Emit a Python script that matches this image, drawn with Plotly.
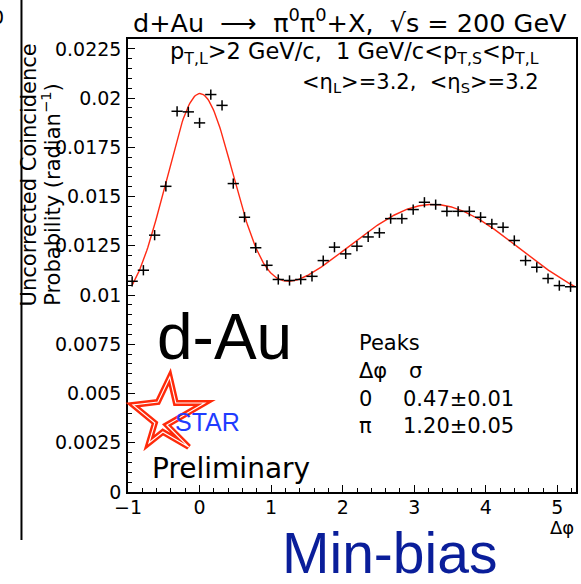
import numpy as np
import plotly.graph_objects as go

# ---- measured two-particle azimuthal correlation, d+Au min-bias ----
dphi = [-0.942, -0.785, -0.628, -0.471, -0.314, -0.157, 0.000, 0.157,
        0.314, 0.471, 0.628, 0.785, 0.942, 1.100, 1.257, 1.414,
        1.571, 1.728, 1.885, 2.042, 2.199, 2.356, 2.513, 2.670,
        2.827, 2.985, 3.142, 3.299, 3.456, 3.613, 3.770, 3.927,
        4.084, 4.241, 4.398, 4.555, 4.712, 4.869, 5.027, 5.184]
coinc_prob = [0.01070, 0.01126, 0.01304, 0.01552, 0.01933, 0.01930, 0.01874, 0.02018,
              0.01963, 0.01566, 0.01395, 0.01240, 0.01151, 0.01079, 0.01074, 0.01079,
              0.01095, 0.01175, 0.01243, 0.01209, 0.01248, 0.01295, 0.01316, 0.01388,
              0.01388, 0.01434, 0.01471, 0.01459, 0.01425, 0.01425, 0.01425, 0.01395,
              0.01361, 0.01344, 0.01277, 0.01175, 0.01141, 0.01084, 0.01048, 0.01042]
bin_half_width = 0.0785      # half of a pi/20 bin
stat_err = 0.00026

# ---- fit: constant pedestal + near-side and away-side Gaussians ----
fit_pedestal = 0.0090
near_amp, near_mean, near_sigma = 0.01109, 0.0, 0.47
away_amp, away_mean, away_sigma = 0.0056, 3.26, 1.20
fit_lo, fit_hi = -0.94, 5.24

# ---- axis ticks ----
x_tickvals = [-1, 0, 1, 2, 3, 4, 5]
x_ticktext = ["\u22121", "0", "1", "2", "3", "4", "5"]
y_tickvals = [0, 0.0025, 0.005, 0.0075, 0.01, 0.0125, 0.015, 0.0175, 0.02, 0.0225]
y_ticktext = ["0", "0.0025", "0.005", "0.0075", "0.01", "0.0125", "0.015",
              "0.0175", "0.02", "0.0225"]

ROOT_FONT = "DejaVu Sans"
SLIDE_FONT = "Liberation Sans, Arial"

W, H = 581, 584
PL, PR, PT, PB = 128, 578, 39, 492


def fx(p):
    return (p - PL) / (PR - PL)


def fy(p):
    return (PB - p) / (PB - PT)


def gauss(x, a, m, s):
    return a * np.exp(-0.5 * ((x - m) / s) ** 2)


xf = np.linspace(fit_lo, fit_hi, 400)
yf = (fit_pedestal + gauss(xf, near_amp, near_mean, near_sigma)
      + gauss(xf, away_amp, away_mean, away_sigma))

fig = go.Figure()
fig.add_trace(go.Scatter(
    x=xf, y=yf, mode="lines",
    line=dict(color="#ff2a14", width=1.4),
    hoverinfo="skip", showlegend=False))
fig.add_trace(go.Scatter(
    x=dphi, y=coinc_prob, mode="markers",
    marker=dict(size=1, color="black"),
    error_x=dict(type="constant", value=bin_half_width, width=0,
                 color="black", thickness=1.5),
    error_y=dict(type="constant", value=stat_err, width=0,
                 color="black", thickness=1.5),
    showlegend=False))


def ann(text, x, y, size, xanchor="left", yanchor="middle",
        family=ROOT_FONT, color="black", angle=0):
    return dict(text=text, x=fx(x), y=fy(y), xref="paper", yref="paper",
                xanchor=xanchor, yanchor=yanchor, showarrow=False,
                textangle=angle,
                font=dict(family=family, size=size, color=color))


annotations = [
    ann("d+Au&nbsp;&nbsp;\u27f6&nbsp;&nbsp;\u03c0<sup>0</sup>\u03c0<sup>0</sup>+X,&nbsp;&nbsp;\u221as&nbsp;=&nbsp;200&nbsp;GeV",
        131, 21, 25.5),
    ann("p<sub>T,L</sub>&gt;2 GeV/c,&nbsp;&nbsp;1 GeV/c&lt;p<sub>T,S</sub>&lt;p<sub>T,L</sub>",
        543, 53, 22.5, xanchor="right"),
    ann("&lt;\u03b7<sub>L</sub>&gt;=3.2,&nbsp;&nbsp;&lt;\u03b7<sub>S</sub>&gt;=3.2",
        543, 83, 21, xanchor="right"),
    ann("d-Au", 155, 337, 64, family=SLIDE_FONT),
    ann("Peaks", 358, 343, 21),
    ann("\u0394\u03c6", 358, 371, 21),
    ann("\u03c3", 408, 371, 21),
    ann("0", 358, 399, 21),
    ann("0.47\u00b10.01", 402, 399, 21),
    ann("\u03c0", 358, 426, 21),
    ann("1.20\u00b10.05", 402, 426, 21),
    ann("STAR", 173, 422, 25, family=SLIDE_FONT, color="#1f3cff"),
    ann("Preliminary", 150, 468, 28),
    ann("\u0394\u03c6", 578, 527, 18, xanchor="right"),
    ann("Min-bias", 281, 553, 57, family=SLIDE_FONT, color="#0a1e9a"),
    ann("0", 5, 17, 19, xanchor="right"),
    ann("Uncorrected Coincidence", 29.5, 308, 21, xanchor="center",
        yanchor="bottom", angle=-90),
    ann("Probability (radian<sup>\u22121</sup>)", 51, 308, 21, xanchor="center",
        yanchor="bottom", angle=-90),
]

# STAR logo outline (pixel vertices converted to paper space)
star_px = [(170, 377), (176, 403), (205, 403), (167, 425), (189, 447),
           (163, 432), (149, 443), (155, 423), (133, 405), (158, 402)]
star_path = "M " + " L ".join(f"{fx(a):.4f},{fy(b):.4f}" for a, b in star_px) + " Z"

shapes = [
    dict(type="line", xref="paper", yref="paper",
         x0=fx(21), x1=fx(21), y0=fy(0), y1=fy(540),
         line=dict(color="black", width=2)),
    dict(type="path", xref="paper", yref="paper", path=star_path,
         line=dict(color="#ff2a0a", width=6)),
    dict(type="path", xref="paper", yref="paper", path=star_path,
         line=dict(color="white", width=1.1)),
]

axis_common = dict(
    showline=True, linecolor="black", linewidth=1.5, mirror=True,
    ticks="inside", ticklen=7, tickwidth=1, tickcolor="black",
    showgrid=False, zeroline=False,
    tickfont=dict(family=ROOT_FONT, size=19, color="black"),
)

fig.update_layout(
    width=W, height=H, autosize=False,
    margin=dict(l=PL, r=W - PR, t=PT, b=H - PB, pad=0),
    paper_bgcolor="white", plot_bgcolor="white",
    xaxis=dict(range=[-1, 5.26], tickmode="array", tickvals=x_tickvals,
               ticktext=x_ticktext, ticklabelstandoff=-3,
               minor=dict(tick0=0, dtick=0.2, ticks="inside", ticklen=4,
                          tickcolor="black", tickwidth=1, showgrid=False),
               **axis_common),
    yaxis=dict(range=[0, 0.0230], tickmode="array", tickvals=y_tickvals,
               ticktext=y_ticktext, ticklabelstandoff=1,
               minor=dict(tick0=0, dtick=0.0005, ticks="inside", ticklen=4,
                          tickcolor="black", tickwidth=1, showgrid=False),
               **axis_common),
    annotations=annotations,
    shapes=shapes,
    showlegend=False,
)

fig.write_html("out.html")
